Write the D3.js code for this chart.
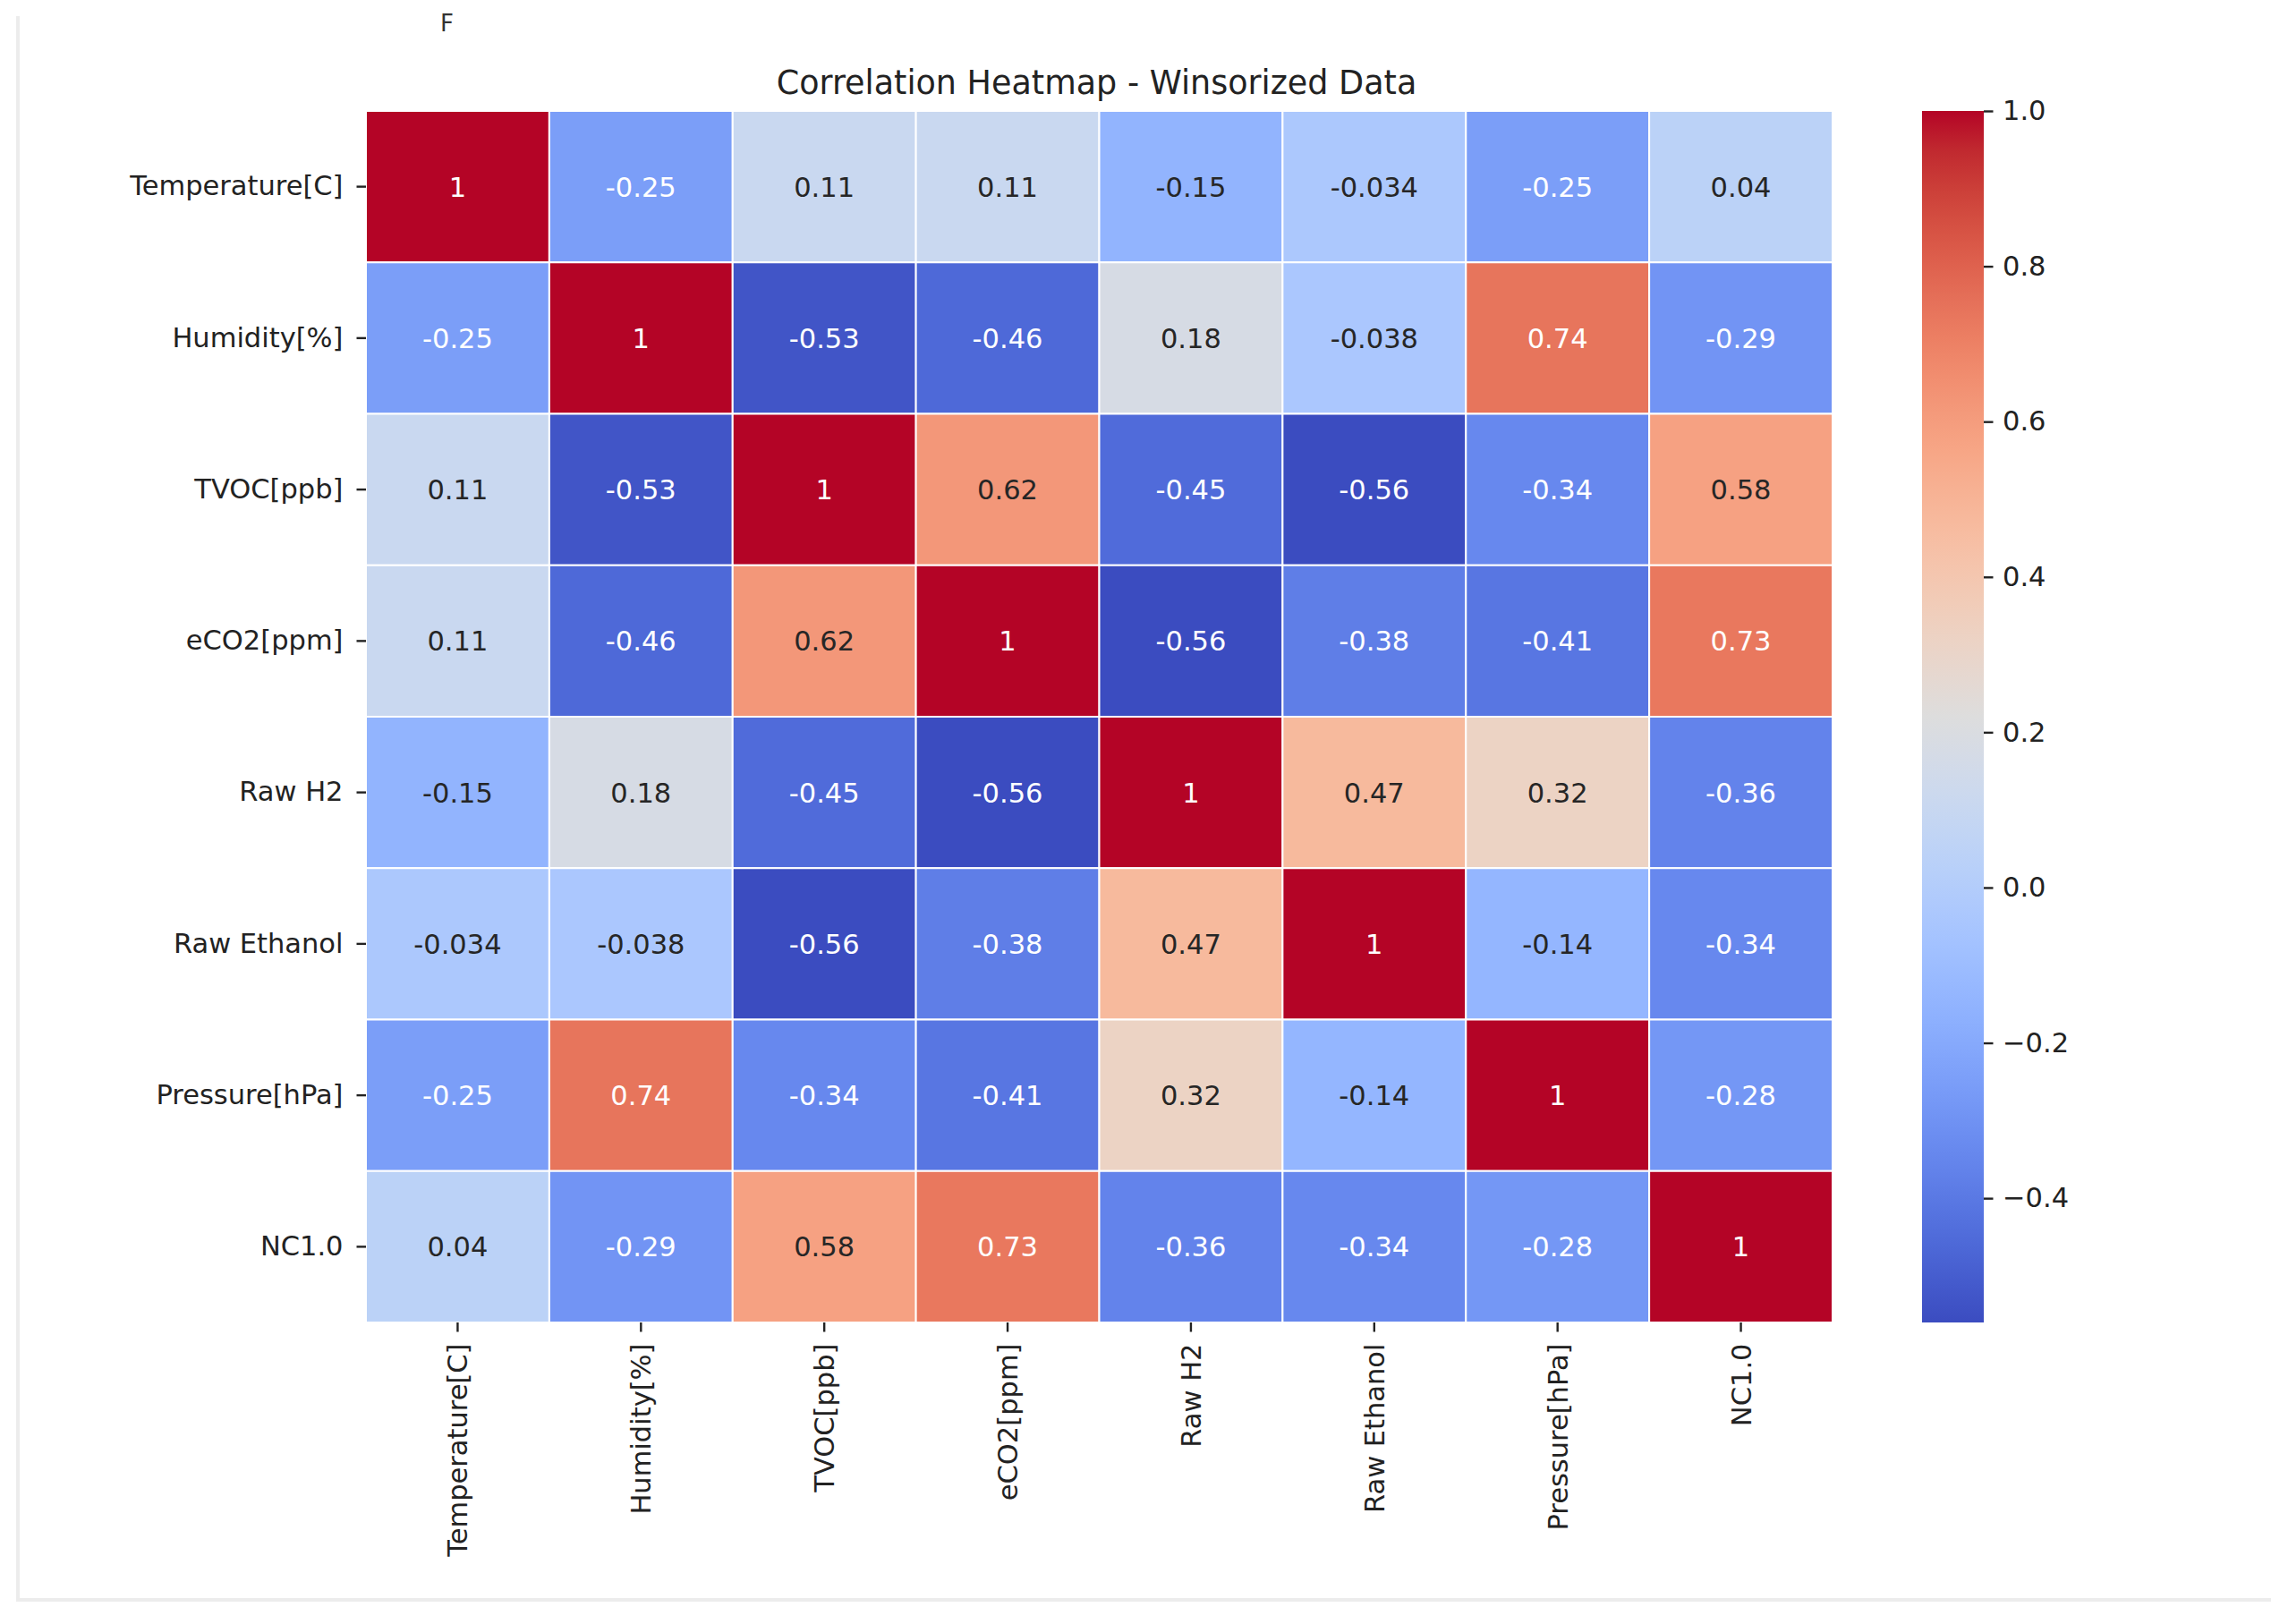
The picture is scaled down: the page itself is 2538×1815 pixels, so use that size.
<!DOCTYPE html>
<html><head><meta charset="utf-8">
<script src="https://cdn.jsdelivr.net/npm/d3@7"></script>
<style>body{margin:0;background:#fff} text{font-family:"DejaVu Sans",sans-serif}</style>
</head><body><svg id="c" width="2538" height="1815"></svg>
<script>
const variables = ["Temperature[C]","Humidity[%]","TVOC[ppb]","eCO2[ppm]","Raw H2","Raw Ethanol","Pressure[hPa]","NC1.0"];
const rowTemperature = [1, -0.25, 0.11, 0.11, -0.15, -0.034, -0.25, 0.04];
const rowHumidity    = [-0.25, 1, -0.53, -0.46, 0.18, -0.038, 0.74, -0.29];
const rowTVOC        = [0.11, -0.53, 1, 0.62, -0.45, -0.56, -0.34, 0.58];
const rowECO2        = [0.11, -0.46, 0.62, 1, -0.56, -0.38, -0.41, 0.73];
const rowRawH2       = [-0.15, 0.18, -0.45, -0.56, 1, 0.47, 0.32, -0.36];
const rowRawEthanol  = [-0.034, -0.038, -0.56, -0.38, 0.47, 1, -0.14, -0.34];
const rowPressure    = [-0.25, 0.74, -0.34, -0.41, 0.32, -0.14, 1, -0.28];
const rowNC10        = [0.04, -0.29, 0.58, 0.73, -0.36, -0.34, -0.28, 1];
const correlations = [rowTemperature,rowHumidity,rowTVOC,rowECO2,rowRawH2,rowRawEthanol,rowPressure,rowNC10];
const colorbarTicks = [-0.4,-0.2,0,0.2,0.4,0.6,0.8,1.0];
const titleText = "Correlation Heatmap - Winsorized Data";
const coolwarmStops = [[59,76,192],[68,90,204],[77,104,215],[87,117,225],[98,130,234],[108,142,241],[119,154,247],[130,165,251],[141,176,254],[152,185,255],[163,194,255],[174,201,253],[184,208,249],[194,213,244],[204,217,238],[213,219,230],[221,221,221],[229,216,209],[236,211,197],[241,204,184],[245,196,172],[247,187,159],[247,177,147],[247,166,134],[244,154,123],[241,141,111],[236,127,99],[229,112,89],[222,96,77],[213,80,66],[203,62,56],[192,40,47],[180,4,38]];

const svg = d3.select("#c");
const L = 409, R = 2048, T = 124, B = 1478;
const FS = 30.5, TICK = 10.5, PAD = 12;

// screenshot frame
svg.append("line").attr("x1",20).attr("x2",20).attr("y1",18).attr("y2",1788).attr("stroke","#ececec").attr("stroke-width",4);
svg.append("line").attr("x1",18).attr("x2",2538).attr("y1",1788).attr("y2",1788).attr("stroke","#ececec").attr("stroke-width",4);
svg.append("text").attr("x",492).attr("y",35).attr("font-size",26).attr("fill","#333").text("F");

const x = d3.scaleBand().domain(variables).range([L,R]);
const y = d3.scaleBand().domain(variables).range([T,B]);
const flat = correlations.flat();
const vmin = d3.min(flat), vmax = d3.max(flat);
const cmap = d3.piecewise(d3.interpolateRgb, coolwarmStops.map(c=>d3.rgb(c[0],c[1],c[2])));
const norm = d3.scaleLinear().domain([vmin,vmax]).range([0,1]).clamp(true);
const color = v => cmap(norm(v));
function lum(c){
  const r = d3.rgb(c);
  const f = u => { u/=255; return u<=0.03928? u/12.92 : Math.pow((u+0.055)/1.055,2.4); };
  return 0.2126*f(r.r)+0.7152*f(r.g)+0.0722*f(r.b);
}

const cells = [];
correlations.forEach((row,i)=>row.forEach((v,j)=>cells.push({r:variables[i],c:variables[j],v})));

svg.append("g").selectAll("rect").data(cells).join("rect")
  .attr("x",d=>x(d.c)).attr("y",d=>y(d.r))
  .attr("width",x.bandwidth()).attr("height",y.bandwidth())
  .attr("fill",d=>color(d.v)).attr("stroke","#fff").attr("stroke-width",2);

svg.append("g").selectAll("text").data(cells).join("text")
  .attr("x",d=>x(d.c)+x.bandwidth()/2).attr("y",d=>y(d.r)+y.bandwidth()/2)
  .attr("text-anchor","middle").attr("dy","0.36em").attr("font-size",FS)
  .attr("fill",d=>lum(color(d.v))>0.408?"#262626":"#ffffff")
  .text(d=>d3.format(".2~g")(d.v).replace("−","-"));

// y axis
const gy = svg.append("g").attr("transform",`translate(${L},0)`)
  .call(d3.axisLeft(y).tickSize(TICK).tickPadding(PAD+3));
gy.select(".domain").remove();
gy.selectAll("line").attr("stroke","#222").attr("stroke-width",2.4);
gy.selectAll("text").attr("font-size",FS).attr("fill","#222").attr("font-family","DejaVu Sans");

// x axis
const gx = svg.append("g").attr("transform",`translate(0,${B})`)
  .call(d3.axisBottom(x).tickSize(TICK).tickPadding(PAD));
gx.select(".domain").remove();
gx.selectAll("line").attr("stroke","#222").attr("stroke-width",2.4);
gx.selectAll("text").attr("font-size",FS).attr("fill","#222").attr("font-family","DejaVu Sans")
  .attr("transform","rotate(-90)").attr("x",-(TICK+PAD+1)).attr("y",0).attr("dy","0.36em").attr("text-anchor","end");

// title
svg.append("text").attr("x",(L+R)/2 - 3).attr("y",105).attr("text-anchor","middle")
  .attr("font-size",36.5).attr("fill","#222").text(titleText);

// colorbar
const CL = 2148, CR = 2217;
const cb = d3.scaleLinear().domain([vmin,vmax]).range([B,T]);
const defs = svg.append("defs");
const grad = defs.append("linearGradient").attr("id","cw").attr("x1",0).attr("y1",1).attr("x2",0).attr("y2",0);
grad.selectAll("stop").data(coolwarmStops).join("stop")
  .attr("offset",(d,i)=>i/(coolwarmStops.length-1))
  .attr("stop-color",d=>d3.rgb(d[0],d[1],d[2]).formatHex());
svg.append("rect").attr("x",CL).attr("y",T).attr("width",CR-CL).attr("height",B-T).attr("fill","url(#cw)");
const gc = svg.append("g").attr("transform",`translate(${CR},0)`)
  .call(d3.axisRight(cb).tickValues(colorbarTicks).tickFormat(d3.format(".1f")).tickSize(TICK).tickPadding(10.5));
gc.select(".domain").remove();
gc.selectAll("line").attr("stroke","#222").attr("stroke-width",2.4);
gc.selectAll("text").attr("font-size",FS).attr("fill","#222").attr("font-family","DejaVu Sans");
</script></body></html>
